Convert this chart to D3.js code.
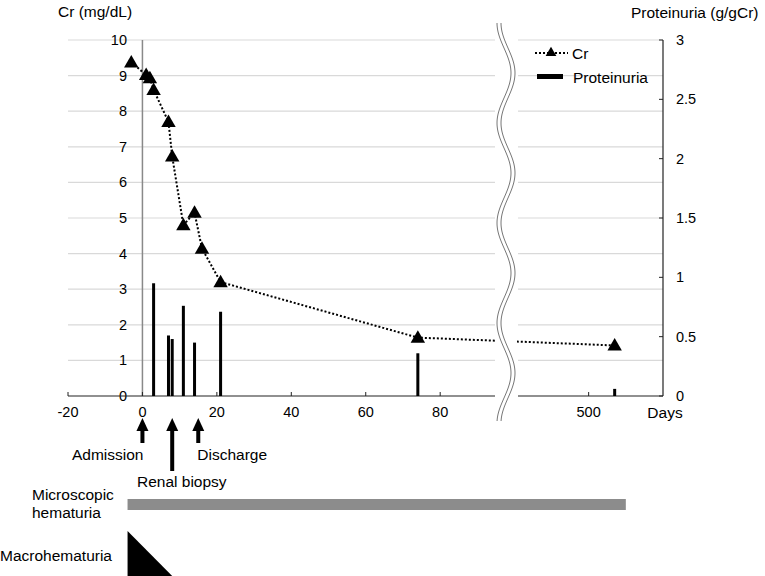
<!DOCTYPE html>
<html>
<head>
<meta charset="utf-8">
<script src="https://cdn.jsdelivr.net/npm/d3@7"></script>
<style>
  body { margin: 0; background: #fff; }
  svg { font-family: "Liberation Sans", Arial, sans-serif; }
</style>
</head>
<body>
<svg id="chart" width="765" height="576"></svg>
<script>
// Cr (mg/dL) measurements
const crDays = [-3, 1, 2, 3, 7, 8, 11, 14, 16, 21, 74, 535];
const crValues = [9.37, 9.02, 8.93, 8.6, 7.7, 6.73, 4.8, 5.15, 4.14, 3.2, 1.64, 1.42];

// Proteinuria (g/gCr)
const protDays = [3, 7, 8, 11, 14, 21, 74, 535];
const protValues = [0.95, 0.51, 0.48, 0.76, 0.45, 0.71, 0.36, 0.06];

// tick labels
const crTicks = [0, 1, 2, 3, 4, 5, 6, 7, 8, 9, 10];
const protTicks = [0, 0.5, 1, 1.5, 2, 2.5, 3];
const dayTicksLeft = [-20, 0, 20, 40, 60, 80];
const dayTicksRight = [500];

// clinical events
const events = [
    {label: "Admission", day: 0},
    {label: "Renal biopsy", day: 8},
    {label: "Discharge", day: 15}
];
const microHematuria = [-4, 550];
const macroHematuria = [-4, 8];

const svg = d3.select("#chart");

const xLeft = d3.scaleLinear().domain([-20, 95]).range([68, 496]);
const xRight = d3.scaleLinear().domain([405, 600]).range([518, 663]);
const x = d => d <= 95 ? xLeft(d) : xRight(d);
const yCr = d3.scaleLinear().domain([0, 10]).range([396, 40]);
const yProt = d3.scaleLinear().domain([0, 3]).range([396, 40]);

const breakL = 495, breakR = 518;

// gridlines
const grid = svg.append("g");
crTicks.filter(d => d > 0).forEach(t => {
    grid.append("line").attr("x1", xLeft(-20)).attr("x2", breakL)
        .attr("y1", yCr(t)).attr("y2", yCr(t))
        .attr("stroke", "#d9d9d9").attr("stroke-width", 1.2);
    grid.append("line").attr("x1", breakR).attr("x2", xRight(600))
        .attr("y1", yCr(t)).attr("y2", yCr(t))
        .attr("stroke", "#d9d9d9").attr("stroke-width", 1.2);
});

// left Cr axis
svg.append("line")
    .attr("x1", xLeft(0)).attr("x2", xLeft(0))
    .attr("y1", yCr(10)).attr("y2", yCr(0))
    .attr("stroke", "#898989").attr("stroke-width", 1.5);
svg.append("g").selectAll("text")
    .data(crTicks)
    .join("text")
    .attr("x", 127)
    .attr("y", d => yCr(d) + 5)
    .attr("text-anchor", "end")
    .attr("font-size", 14.5)
    .text(d => d);

// right proteinuria axis
const rightAxis = svg.append("g");
rightAxis.append("line")
    .attr("x1", xRight(600)).attr("x2", xRight(600))
    .attr("y1", yProt(3)).attr("y2", yProt(0))
    .attr("stroke", "#222").attr("stroke-width", 1.2);
rightAxis.selectAll(".tk")
    .data(protTicks)
    .join("line")
    .attr("class", "tk")
    .attr("x1", xRight(600) - 4).attr("x2", xRight(600))
    .attr("y1", d => yProt(d)).attr("y2", d => yProt(d))
    .attr("stroke", "#222");
rightAxis.selectAll("text")
    .data(protTicks)
    .join("text")
    .attr("x", 676)
    .attr("y", d => yProt(d) + 5)
    .attr("font-size", 14.5)
    .text(d => d);

// x axis (two segments)
const xAxis = svg.append("g").attr("stroke", "#222");
xAxis.append("line").attr("x1", xLeft(-20)).attr("x2", breakL)
    .attr("y1", 396).attr("y2", 396).attr("stroke-width", 1.2);
xAxis.append("line").attr("x1", breakR).attr("x2", xRight(600))
    .attr("y1", 396).attr("y2", 396).attr("stroke-width", 1.2);
xAxis.selectAll(".tl")
    .data(dayTicksLeft)
    .join("line")
    .attr("class", "tl")
    .attr("x1", d => xLeft(d)).attr("x2", d => xLeft(d))
    .attr("y1", 392).attr("y2", 396);
xAxis.selectAll(".tr")
    .data(dayTicksRight)
    .join("line")
    .attr("class", "tr")
    .attr("x1", d => xRight(d)).attr("x2", d => xRight(d))
    .attr("y1", 392).attr("y2", 396);

svg.append("g").selectAll("text")
    .data(dayTicksLeft.map(d => ({d, px: xLeft(d)})).concat(dayTicksRight.map(d => ({d, px: xRight(d)}))))
    .join("text")
    .attr("x", d => d.px)
    .attr("y", 417)
    .attr("text-anchor", "middle")
    .attr("font-size", 14.5)
    .text(d => d.d);

svg.append("text").attr("x", 665).attr("y", 418)
    .attr("text-anchor", "middle").attr("font-size", 15.5).text("Days");

// proteinuria bars
svg.append("g").selectAll("rect")
    .data(protDays.map((d, i) => ({day: d, v: protValues[i]})))
    .join("rect")
    .attr("x", d => x(d.day) - 1.5)
    .attr("width", 3)
    .attr("y", d => yProt(d.v))
    .attr("height", d => yProt(0) - yProt(d.v))
    .attr("fill", "#000");

// Cr line + markers
const crData = crDays.map((d, i) => ({day: d, v: crValues[i]}));
const line = d3.line().x(d => x(d.day)).y(d => yCr(d.v));
svg.append("path")
    .datum(crData)
    .attr("d", line)
    .attr("fill", "none")
    .attr("stroke", "#000")
    .attr("stroke-width", 2)
    .attr("stroke-dasharray", "2,2");

const tri = d3.symbol().type(d3.symbolTriangle).size(90);
svg.append("g").selectAll("path")
    .data(crData)
    .join("path")
    .attr("transform", d => `translate(${x(d.day)},${yCr(d.v) + 1})`)
    .attr("d", tri)
    .attr("fill", "#000");

// axis break
svg.append("rect").attr("x", breakL + 1).attr("y", 20)
    .attr("width", breakR - breakL - 2).attr("height", 405).attr("fill", "#fff");
const wave = off => d3.line()(d3.range(23, 423, 2).map(yy =>
    [506 + off + 7 * Math.sin(2 * Math.PI * (yy - 48) / 100), yy]));
svg.append("path").attr("d", wave(0)).attr("fill", "none")
    .attr("stroke", "#fff").attr("stroke-width", 5);
[-2, 2].forEach(off => {
    svg.append("path").attr("d", wave(off)).attr("fill", "none")
        .attr("stroke", "#777").attr("stroke-width", 1);
});

// axis titles
svg.append("text").attr("x", 58).attr("y", 17).attr("font-size", 15.5).text("Cr (mg/dL)");
svg.append("text").attr("x", 631).attr("y", 18).attr("font-size", 15.5).text("Proteinuria (g/gCr)");

// legend
const legend = svg.append("g");
legend.append("line").attr("x1", 535).attr("x2", 568).attr("y1", 53).attr("y2", 53)
    .attr("stroke", "#000").attr("stroke-width", 2).attr("stroke-dasharray", "2,2");
legend.append("path").attr("d", d3.symbol().type(d3.symbolTriangle).size(50))
    .attr("transform", "translate(551,53)").attr("fill", "#000");
legend.append("text").attr("x", 572).attr("y", 59).attr("font-size", 15.5).text("Cr");
legend.append("rect").attr("x", 537).attr("y", 74).attr("width", 26).attr("height", 5).attr("fill", "#000");
legend.append("text").attr("x", 573).attr("y", 83).attr("font-size", 15.5).text("Proteinuria");

// event arrows
const arrows = svg.append("g");
const arrowEnd = {"Admission": 443, "Renal biopsy": 471, "Discharge": 443};
events.forEach(e => {
    const ax = x(e.day);
    arrows.append("rect").attr("x", ax - 2).attr("y", 428)
        .attr("width", 4).attr("height", arrowEnd[e.label] - 428).attr("fill", "#000");
    arrows.append("path")
        .attr("d", `M${ax},418 L${ax + 6},431 L${ax - 6},431 Z`)
        .attr("fill", "#000");
});
arrows.append("text").attr("x", x(0) + 1).attr("y", 460).attr("text-anchor", "end")
    .attr("font-size", 15.5).text("Admission");
arrows.append("text").attr("x", 137).attr("y", 487)
    .attr("font-size", 15.5).text("Renal biopsy");
arrows.append("text").attr("x", x(15) - 1).attr("y", 460)
    .attr("font-size", 15.5).text("Discharge");

// hematuria rows
svg.append("text").attr("x", 32).attr("y", 500).attr("font-size", 15.5).text("Microscopic");
svg.append("text").attr("x", 32).attr("y", 518).attr("font-size", 15.5).text("hematuria");
svg.append("rect")
    .attr("x", x(microHematuria[0])).attr("y", 499)
    .attr("width", x(microHematuria[1]) - x(microHematuria[0])).attr("height", 11)
    .attr("fill", "#8c8c8c");

svg.append("text").attr("x", 0).attr("y", 561).attr("font-size", 15.5).text("Macrohematuria");
svg.append("path")
    .attr("d", `M${x(macroHematuria[0])},531 L${x(macroHematuria[1])},576 L${x(macroHematuria[0])},576 Z`)
    .attr("fill", "#000");
</script>
</body>
</html>
